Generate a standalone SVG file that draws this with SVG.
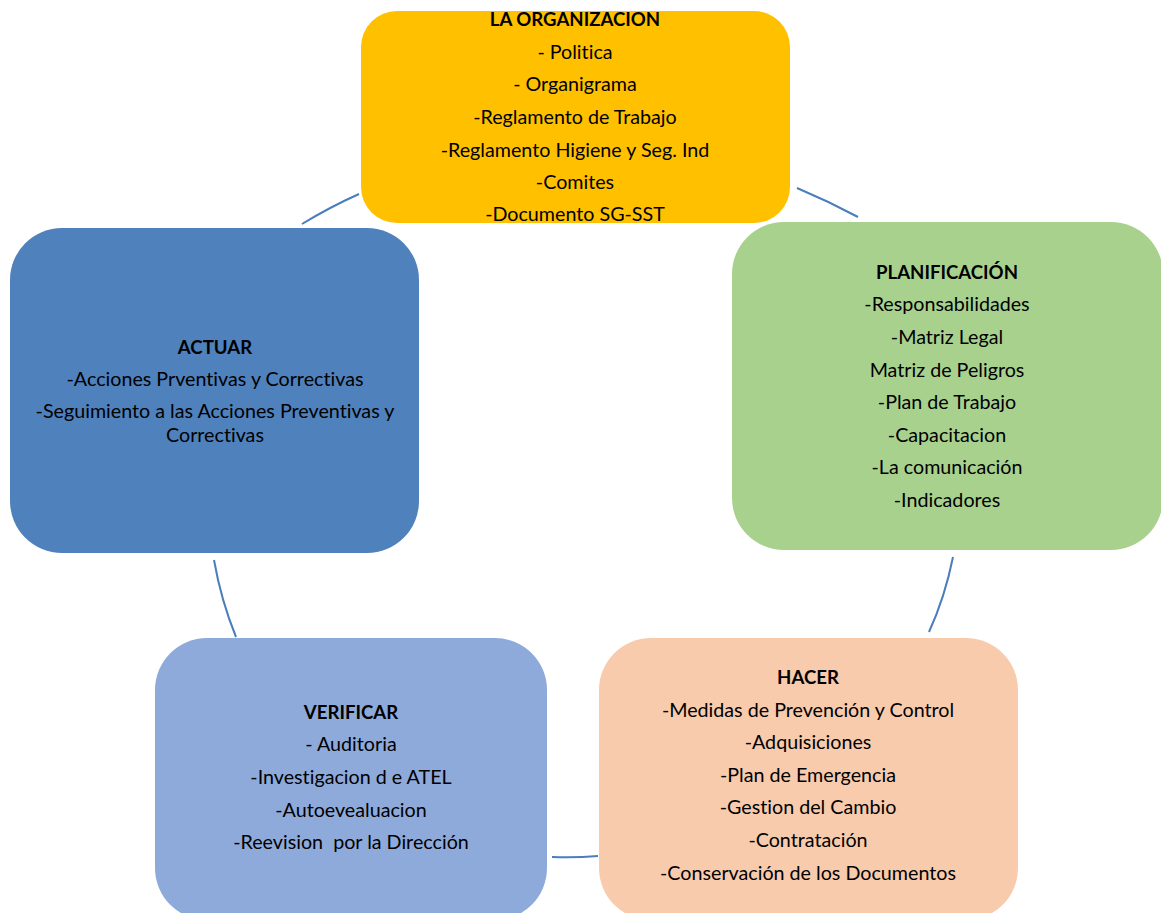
<svg xmlns="http://www.w3.org/2000/svg" width="1161" height="913" viewBox="0 0 1161 913">
  <style>
    text { font-family: Lato, "Open Sans", "Liberation Sans", sans-serif; font-size: 19.7px; fill: #000; text-anchor: middle; font-variant-ligatures: none; font-feature-settings: "liga" 0, "dlig" 0; }
    .t { font-weight: bold; font-size: 18.6px; }
    .c { fill: none; stroke: #4A7EBB; stroke-width: 2; }
  </style>
  <rect width="1161" height="913" fill="#fff"/>
  <g id="connectors">
    <path class="c" d="M302 224 Q330 207 359 194"/>
    <path class="c" d="M797 188 Q828 201 858 217"/>
    <path class="c" d="M953 557 Q945 597 929 632"/>
    <path class="c" d="M214 560 Q221 600 236 637"/>
    <path class="c" d="M552 857 Q575 858 598 856"/>
  </g>
  <g id="organizacion">
    <rect x="361" y="11" width="429" height="212" rx="36" fill="#FFC000"/>
    <text class="t" x="575" y="26">LA ORGANIZACION</text>
    <text x="575" y="59">- Politica</text>
    <text x="575" y="91">- Organigrama</text>
    <text x="575" y="124">-Reglamento de Trabajo</text>
    <text x="575" y="157">-Reglamento Higiene y Seg. Ind</text>
    <text x="575" y="189">-Comites</text>
    <text x="575" y="221">-Documento SG-SST</text>
  </g>
  <g id="actuar">
    <rect x="10" y="228" width="409" height="325" rx="52" fill="#4F81BD"/>
    <text class="t" x="215" y="354">ACTUAR</text>
    <text x="215" y="386">-Acciones Prventivas y Correctivas</text>
    <text x="215" y="418">-Seguimiento a las Acciones Preventivas y</text>
    <text x="215" y="442">Correctivas</text>
  </g>
  <g id="planificacion">
    <rect x="732" y="222" width="431" height="328" rx="52" fill="#A9D18E"/>
    <text class="t" x="947" y="279">PLANIFICACIÓN</text>
    <text x="947" y="311">-Responsabilidades</text>
    <text x="947" y="344">-Matriz Legal</text>
    <text x="947" y="377">Matriz de Peligros</text>
    <text x="947" y="409">-Plan de Trabajo</text>
    <text x="947" y="442">-Capacitacion</text>
    <text x="947" y="474">-La comunicación</text>
    <text x="947" y="507">-Indicadores</text>
  </g>
  <g id="hacer">
    <rect x="599" y="638" width="419" height="282" rx="52" fill="#F8CBAD"/>
    <text class="t" x="808" y="684">HACER</text>
    <text x="808" y="717">-Medidas de Prevención y Control</text>
    <text x="808" y="749">-Adquisiciones</text>
    <text x="808" y="782">-Plan de Emergencia</text>
    <text x="808" y="814">-Gestion del Cambio</text>
    <text x="808" y="847">-Contratación</text>
    <text x="808" y="880">-Conservación de los Documentos</text>
  </g>
  <g id="verificar">
    <rect x="155" y="638" width="392" height="282" rx="52" fill="#8EAADB"/>
    <text class="t" x="351" y="719">VERIFICAR</text>
    <text x="351" y="751">- Auditoria</text>
    <text x="351" y="784">-Investigacion d e ATEL</text>
    <text x="351" y="817">-Autoevealuacion</text>
    <text x="351" y="849" xml:space="preserve">-Reevision  por la Dirección</text>
  </g>
</svg>
